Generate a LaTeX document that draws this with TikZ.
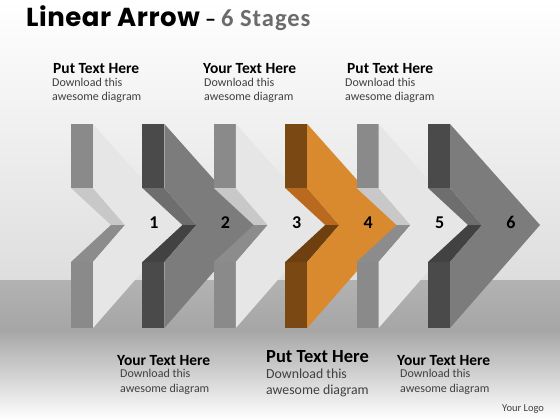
\documentclass[tikz,border=0pt]{standalone}
\usepackage{fontspec}
\setmainfont{Carlito}
\newfontfamily\titlefont{Poppins}[LetterSpace=2]
\newfontfamily\stagesfont{Carlito}[LetterSpace=4]
\usetikzlibrary{positioning}

\definecolor{lightbar}{HTML}{8A8A8A}
\definecolor{lightup}{HTML}{C8C8C8}
\definecolor{lightlow}{HTML}{8C8C8C}
\definecolor{lightface}{HTML}{E6E6E6}
\definecolor{darkbar}{HTML}{4A4A4A}
\definecolor{darkup}{HTML}{6E6E6E}
\definecolor{darklow}{HTML}{424242}
\definecolor{darkface}{HTML}{7C7C7C}
\definecolor{orangebar}{HTML}{7A4812}
\definecolor{orangeup}{HTML}{B96A1E}
\definecolor{orangelow}{HTML}{6E4010}
\definecolor{orangeface}{HTML}{D98A2E}
\definecolor{descgray}{HTML}{404040}
\definecolor{titlegray}{HTML}{6B6B6B}

\begin{document}
\begin{tikzpicture}[x=1pt, y=-1pt,
                    head/.style={font=\bfseries\fontsize{15.5}{16}\selectfont,anchor=base west,inner sep=0pt},
                    desc/.style={font=\fontsize{12}{14.5}\selectfont,text=descgray,align=left,anchor=base west,inner sep=0pt},
                    bighead/.style={head,font=\bfseries\fontsize{18.5}{19}\selectfont},
                    bigdesc/.style={desc,font=\fontsize{13.8}{16}\selectfont},
                    num/.style={font=\bfseries\fontsize{18}{18}\selectfont,inner sep=0pt}]

\useasboundingbox (0,0) rectangle (560,420);

% backdrop and floor
\shade[top color=white, bottom color=black!13] (0,0) rectangle (560,280);
\shade[top color=black!30, middle color=black!24, bottom color=black!35] (0,280) rectangle (560,330);
\shade[top color=black!35, middle color=black!15, bottom color=white] (0,330) rectangle (560,420);

% title
\node[font=\titlefont\bfseries\fontsize{26}{26}\selectfont, anchor=base west, inner sep=0pt] (title) at (26,27) {Linear Arrow};
\node[font=\bfseries\fontsize{22}{22}\selectfont, anchor=base west, inner sep=0pt] (dash) at (205,27) {\textendash};
\node[font=\stagesfont\bfseries\fontsize{24.5}{24}\selectfont, text=titlegray, anchor=base west, inner sep=0pt] (stages) at (221,27) {6 Stages};

% chevrons
\foreach \n/\kind in {1/light,2/dark,3/light,4/orange,5/light,6/dark}{
  \pgfmathsetmacro\xo{93+71.4*(\n-1)}
  \fill[fill=\kind bar] (\xo-22,124) rectangle (\xo,188);
  \fill[fill=\kind bar] (\xo-22,262) rectangle (\xo,328);
  \fill[fill=\kind up] (\xo-22,188) -- (\xo,188) -- (\xo+32,225) -- (\xo+18,225) -- cycle;
  \fill[fill=\kind low] (\xo+18,225) -- (\xo+32,225) -- (\xo,262) -- (\xo-22,262) -- cycle;
  \fill[fill=\kind face] (\xo,124) -- (\xo+90,225) -- (\xo,328) -- (\xo,262) -- (\xo+32,225) -- (\xo,188) -- cycle;
  \node[num] (num\n) at (\xo+61,222.5) {\n};
}

% upper texts (desc placed by its last line)
\node[head] (head1) at (53,74) {Put Text Here};
\node[desc] (desc1) at (52,101) {Download this\\awesome diagram};
\node[head] (head2) at (203,74) {Your Text Here};
\node[desc] (desc2) at (204,101) {Download this\\awesome diagram};
\node[head] (head3) at (347,74) {Put Text Here};
\node[desc] (desc3) at (345,101) {Download this\\awesome diagram};

% lower texts
\node[head] (head4) at (117,365) {Your Text Here};
\node[desc] (desc4) at (120,392) {Download this\\awesome diagram};
\node[bighead] (head5) at (266,362) {Put Text Here};
\node[bigdesc] (desc5) at (266,394) {Download this\\awesome diagram};
\node[head] (head6) at (397,365) {Your Text Here};
\node[desc] (desc6) at (400,392) {Download this\\awesome diagram};

\node[font=\fontsize{10.5}{11}\selectfont, text=descgray, anchor=base west, inner sep=0pt] (logo) at (502,411) {Your Logo};

\end{tikzpicture}
\end{document}
